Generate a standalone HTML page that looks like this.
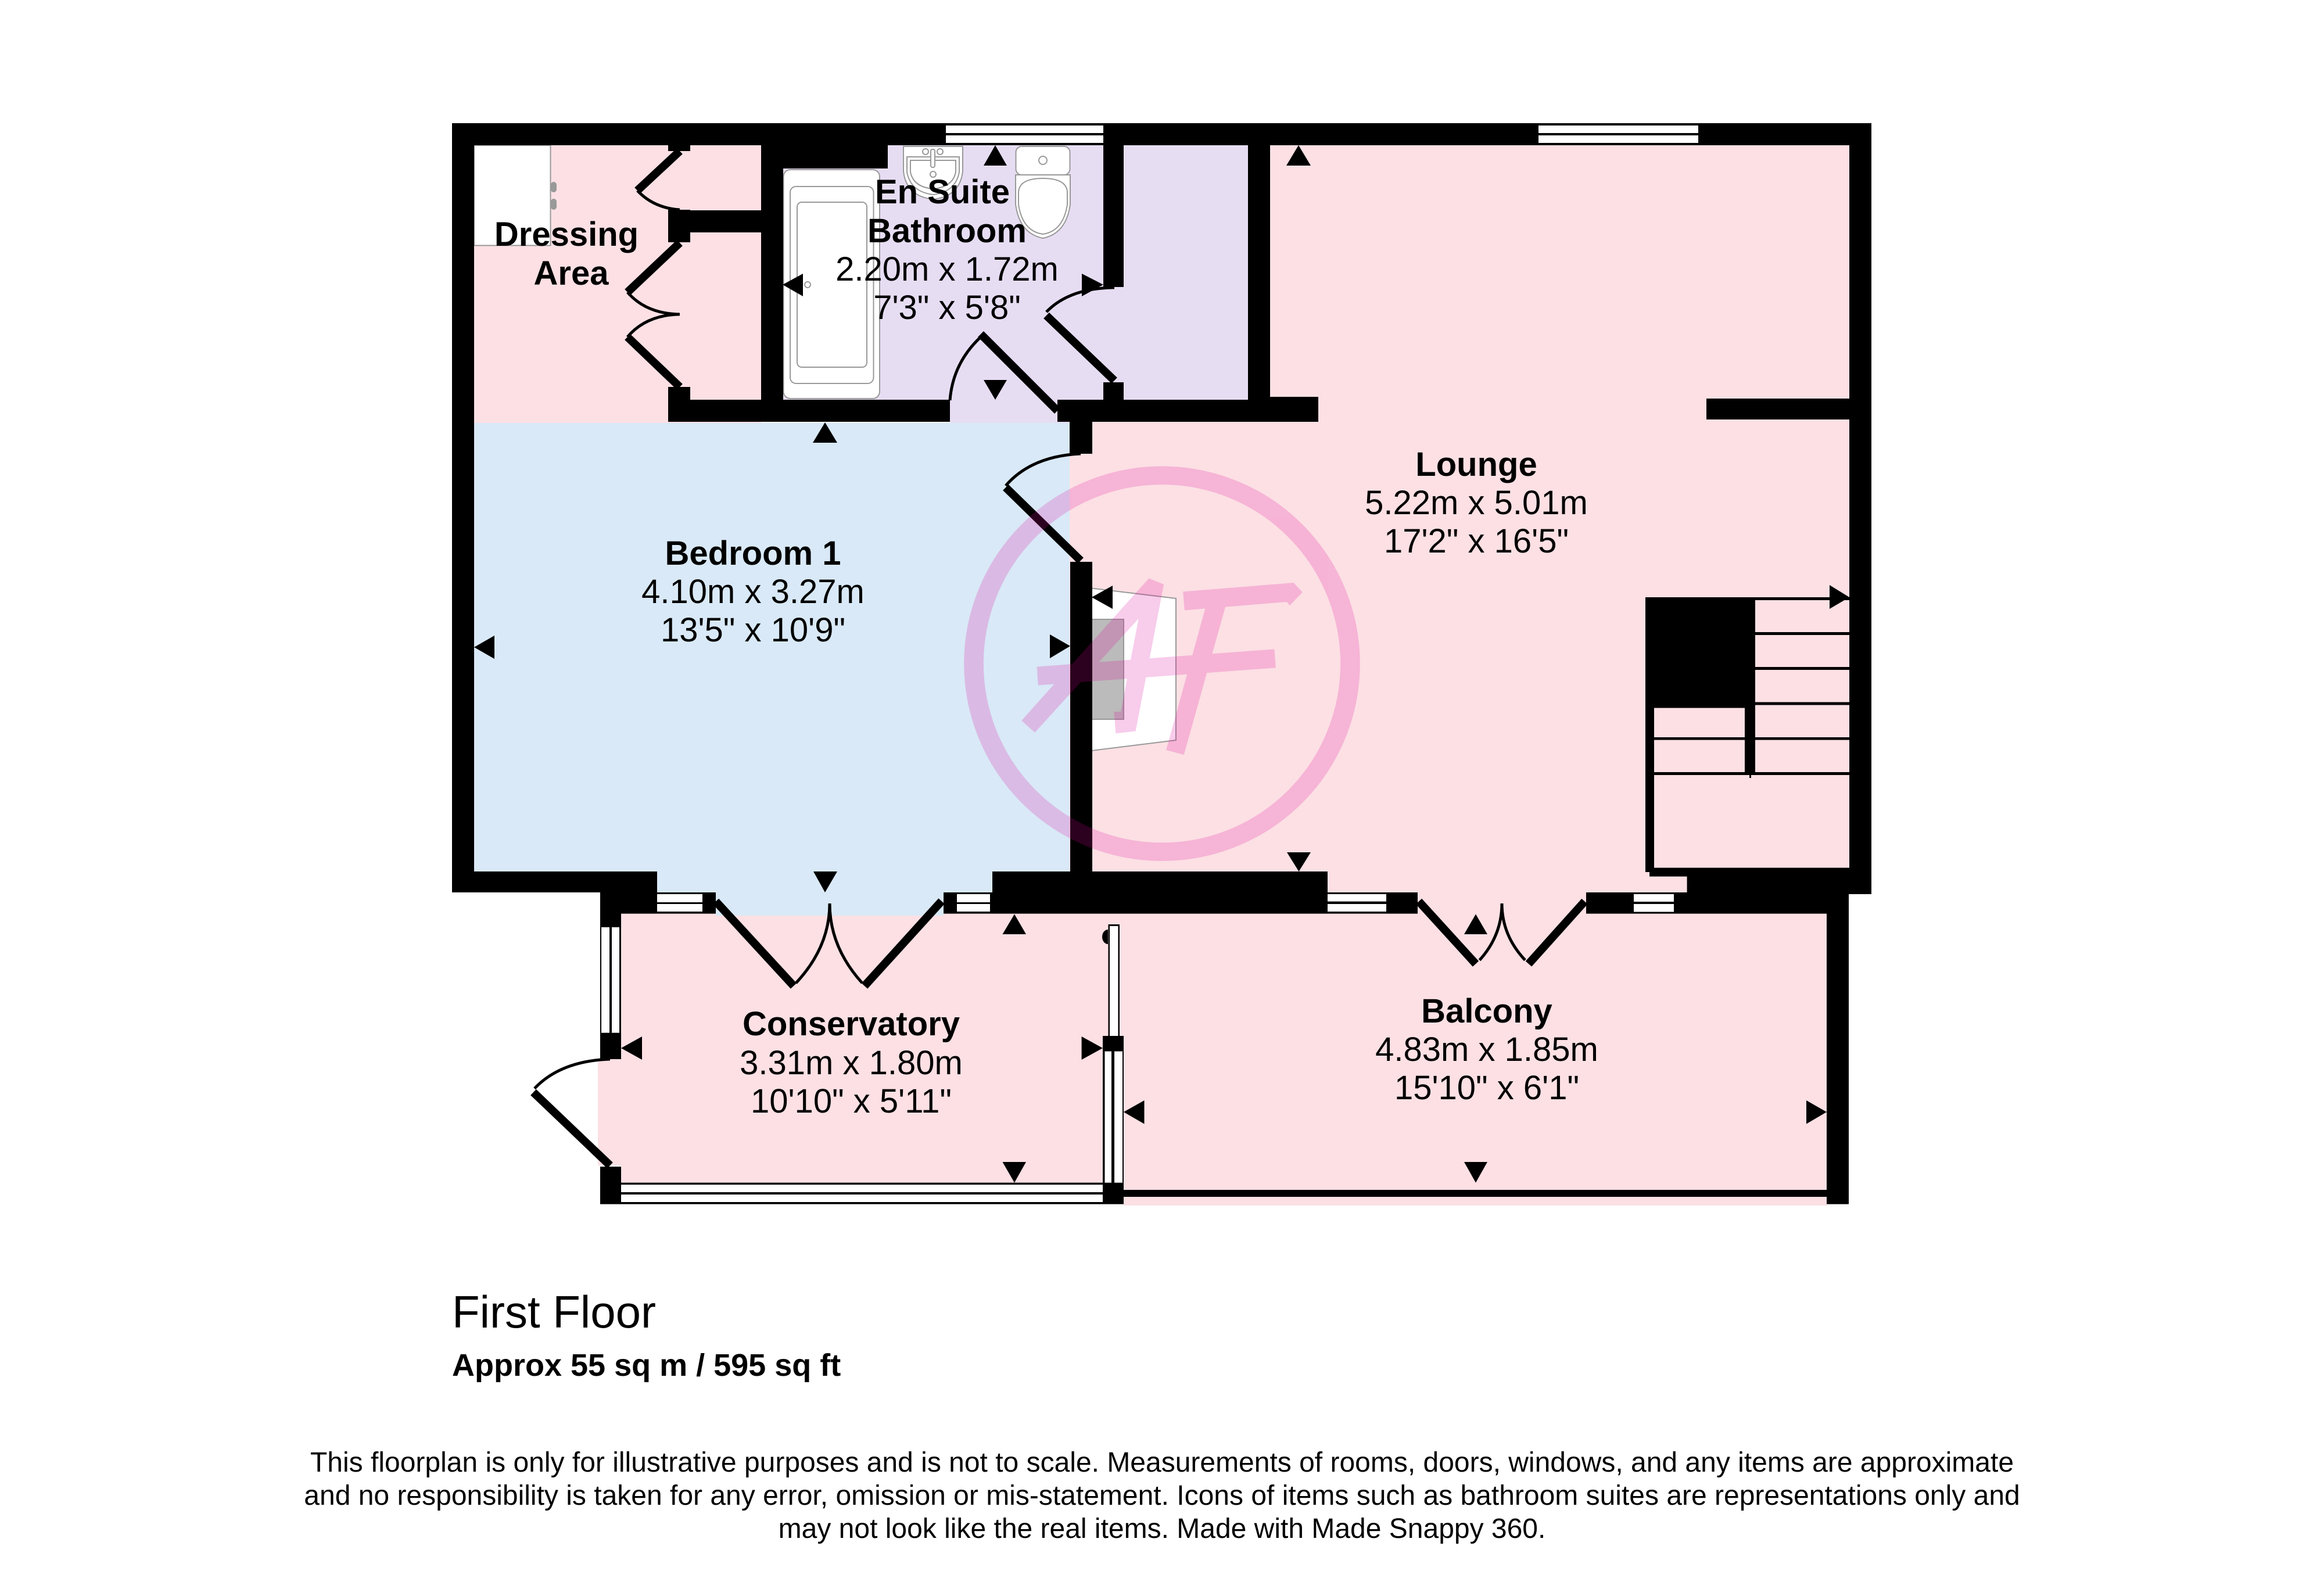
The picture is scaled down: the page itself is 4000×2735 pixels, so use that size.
<!DOCTYPE html>
<html><head><meta charset="utf-8"><style>
html,body{margin:0;padding:0;background:#fff}
svg{display:block}
text{font-family:"Liberation Sans",Arial,sans-serif;fill:#000;text-anchor:middle;font-size:58px}
.b{font-weight:bold}
</style></head><body>
<svg xmlns="http://www.w3.org/2000/svg" width="4000" height="2735" viewBox="0 0 4000 2735">
<rect width="4000" height="2735" fill="#fff"/>
<!-- room fills -->
<g fill="#fce0e4">
<rect x="816" y="250" width="494" height="478"/>
<rect x="2186" y="250" width="997" height="478"/>
<rect x="1841" y="726" width="1342" height="810"/>
<rect x="2285" y="1500" width="619" height="80"/>
<rect x="1934" y="1572" width="1210" height="503"/>
<rect x="1069" y="1572" width="865" height="470"/>
<rect x="1029" y="1823" width="60" height="183"/>
</g>
<g fill="#e7ddf3">
<rect x="1347" y="250" width="801" height="440"/>
<rect x="1635" y="688" width="206" height="40"/>
</g>
<g fill="#d9e9f7">
<rect x="816" y="728" width="1025" height="772"/>
<rect x="1232" y="1500" width="392" height="76"/>
<rect x="1131" y="1500" width="577" height="40"/>
</g>
<!-- fixtures -->
<rect x="816" y="250" width="131.500" height="172.500" fill="#fff" stroke="#999" stroke-width="2"/>
<rect x="948" y="313" width="10" height="18" rx="5" fill="#999"/>
<rect x="948" y="342" width="10" height="19" rx="5" fill="#999"/>
<path d="M1879 1012.500L2024 1030V1274L1879 1292Z" fill="#fff" stroke="#999" stroke-width="2"/>
<rect x="1879" y="1066" width="55" height="172" fill="#bbb" stroke="#999" stroke-width="2"/>
<g fill="#fff" stroke="#999" stroke-width="2">
<rect x="1348.500" y="292" width="165.500" height="394" rx="12"/>
<rect x="1360" y="321" width="143.500" height="339" rx="10" fill="none"/>
<rect x="1372" y="348" width="120" height="284" rx="8" fill="none"/>
<circle cx="1390" cy="490" r="5"/>
<path d="M1555 252H1657V295Q1652 338 1606 343Q1560 338 1555 295Z"/>
<path d="M1561 270H1651V296Q1645 330 1606 335Q1567 330 1561 296Z" fill="none"/>
<path d="M1567 276H1645V296Q1640 322 1606 325Q1572 322 1567 296Z" fill="none"/>
<circle cx="1593" cy="261" r="5"/><circle cx="1618" cy="261" r="5"/>
<rect x="1602" y="257" width="7" height="31" rx="3" fill="#fff"/>
<circle cx="1606" cy="300" r="5"/>
<path d="M1748 301V352Q1755 402 1795 410Q1835 402 1842 352V301Z"/>
<path d="M1753 330Q1755 307 1795 307Q1835 307 1837 330V352Q1830 398 1795 403Q1760 398 1753 352Z"/>
<rect x="1748.500" y="252" width="93" height="49" rx="10"/>
<circle cx="1795" cy="276" r="7"/>
</g>
<!-- walls -->
<g fill="#000">
<rect x="778" y="212" width="2443" height="38"/>
<rect x="778" y="212" width="38" height="1324"/>
<rect x="3183" y="212" width="38" height="1327"/>
<rect x="778" y="1500" width="353" height="36"/>
<rect x="1033" y="1536" width="98" height="36.600"/>
<rect x="1033" y="1572" width="36" height="24"/>
<rect x="1131" y="1536" width="101" height="36.600"/>
<rect x="1624" y="1536" width="85" height="36.600"/>
<rect x="1708" y="1500" width="577" height="72.600"/>
<rect x="2285" y="1536" width="155" height="36.600"/>
<rect x="2730" y="1536" width="451" height="36.600"/>
<rect x="2904" y="1500" width="317" height="39"/>
<rect x="3144" y="1536" width="38" height="536.600"/>
<rect x="1842" y="967" width="38" height="540"/>
<rect x="1841" y="726" width="39" height="55"/>
<rect x="1150" y="250" width="38" height="10"/>
<rect x="1150" y="361" width="38" height="56"/>
<rect x="1188" y="362" width="122" height="38"/>
<rect x="1150" y="666" width="38" height="23"/>
<rect x="1150" y="688" width="485" height="38"/>
<rect x="1310" y="250" width="38" height="440"/>
<rect x="1310" y="250" width="218" height="40"/>
<rect x="1899" y="250" width="35" height="244"/>
<rect x="2148" y="250" width="38" height="440"/>
<rect x="1899" y="658" width="35" height="32"/>
<rect x="1820" y="688" width="449" height="38"/>
<rect x="2186" y="683" width="83" height="43"/>
<rect x="2937" y="686" width="246" height="36"/>
<!-- conservatory -->
<rect x="1033" y="1596" width="36" height="181.600" fill="#000"/>
<rect x="1033" y="1777.600" width="36" height="45.400"/>
<rect x="1033" y="2008" width="36" height="64.600"/>
<rect x="1069" y="2035.600" width="829" height="37"/>
<rect x="1898" y="2035.600" width="36" height="37"/>
<rect x="1898" y="1809.600" width="36" height="226"/>
<rect x="1898" y="1783" width="36" height="26.600"/>
<rect x="1907.500" y="1591" width="19.500" height="192"/>
<path d="M1907 1600a10 12.500 0 0 0 0 25z"/>
<rect x="1934" y="2048" width="1210" height="12"/>
<!-- stairs -->
<path d="M2832 1028H3183V1536H2903.600V1508.600H2839V1501H2832Z"/>
</g>
<g fill="#fce0e4">
<rect x="3021" y="1033" width="162" height="55"/>
<rect x="3021" y="1093" width="162" height="55"/>
<rect x="3021" y="1153" width="162" height="55.500"/>
<rect x="3021" y="1213.500" width="162" height="55.500"/>
<rect x="3021" y="1273.600" width="162" height="55.400"/>
<rect x="2847" y="1218.500" width="156" height="50.500"/>
<rect x="2847" y="1273.600" width="156" height="55.400"/>
<rect x="2847" y="1334" width="336" height="159.600"/>
</g>
<rect x="3011" y="1333" width="3" height="6" fill="#000"/>
<!-- windows -->
<g fill="#fff">
<rect x="1628" y="216" width="271" height="13"/><rect x="1628" y="233" width="271" height="13"/>
<rect x="2648" y="216" width="275" height="13"/><rect x="2648" y="233" width="275" height="13"/>
<rect x="1131" y="1539" width="78" height="14"/><rect x="1131" y="1556" width="78" height="13"/>
<rect x="1647" y="1539" width="57" height="14"/><rect x="1647" y="1556" width="57" height="13"/>
<rect x="2285" y="1539" width="101" height="12.600"/><rect x="2285" y="1556" width="101" height="13"/>
<rect x="2812" y="1539" width="69" height="13"/><rect x="2812" y="1556" width="69" height="13.500"/>
<rect x="1035" y="1596" width="14" height="181.600"/><rect x="1053" y="1596" width="13" height="181.600"/>
<rect x="1069" y="2039" width="829" height="13"/><rect x="1069" y="2056" width="829" height="13"/>
<rect x="1901.500" y="1809.600" width="11.500" height="226"/><rect x="1918" y="1809.600" width="14" height="226"/>
<rect x="1910" y="1594" width="14.500" height="189"/>
</g>
<!-- doors -->
<g fill="none" stroke="#000" stroke-width="14">
<path d="M1170 260L1097 328"/>
<path d="M1170 418L1080 503"/>
<path d="M1080 580L1170 666"/>
<path d="M1801 543L1918 655"/>
<path d="M1688 575L1820 707"/>
<path d="M1731 839L1860 965"/>
<path d="M1232 1551.500L1366 1697"/>
<path d="M1620.600 1551L1488 1697"/>
<path d="M2442 1551.500L2540 1659"/>
<path d="M2727.500 1551.500L2631 1659"/>
<path d="M918 1880L1050 2006"/>
</g>
<g fill="none" stroke="#000" stroke-width="5">
<path d="M1097 328Q1125 358 1170 361"/>
<path d="M1080 503Q1112 540 1170 541"/>
<path d="M1080 580Q1112 542 1170 541"/>
<path d="M1801 537Q1840 496 1918 495"/>
<path d="M1635 689Q1640 625 1688 580"/>
<path d="M1731 836Q1775 785 1860 781"/>
<path d="M1370 1692Q1428 1630 1428 1555"/>
<path d="M1484 1692Q1428 1630 1428 1555"/>
<path d="M2546.600 1652.600Q2585 1610 2585 1555"/>
<path d="M2625 1652.600Q2585 1610 2585 1555"/>
<path d="M920 1873.500Q965 1826 1050 1823"/>
</g>
<!-- arrows -->
<g fill="#000">
<path d="M1713 250L1733 285H1693Z"/>
<path d="M2235 250L2256 285H2214Z"/>
<path d="M1347 490L1382 471V510Z"/>
<path d="M1899 490L1862 471V510Z"/>
<path d="M1713 688L1693 654H1733Z"/>
<path d="M1420 727L1441 762H1399Z"/>
<path d="M816 1114L851 1094V1134Z"/>
<path d="M1879 1028L1915 1008V1048Z"/>
<path d="M1842 1112L1807 1092V1133Z"/>
<path d="M2235.500 1500L2215 1467H2256Z"/>
<path d="M3183 1028L3149 1007V1048Z"/>
<path d="M1420 1536L1400 1500H1441Z"/>
<path d="M1746 1573.500L1766 1608H1725.500Z"/>
<path d="M1069 1804L1105 1784V1824Z"/>
<path d="M1898 1804L1861.600 1784V1824Z"/>
<path d="M1934 1914L1969.500 1894V1934.500Z"/>
<path d="M1746 2035.600L1725.500 2000H1766Z"/>
<path d="M2540 1573.500L2560 1608H2520Z"/>
<path d="M2540 2035.600L2520 2000H2560Z"/>
<path d="M3144 1914L3109 1894V1934.500Z"/>
</g>
<!-- labels -->
<text class="b" x="975" y="423">Dressing</text>
<text class="b" x="983" y="490">Area</text>
<text class="b" x="1622" y="350">En Suite</text>
<text class="b" x="1630" y="417">Bathroom</text>
<text x="1630" y="483">2.20m x 1.72m</text>
<text x="1630" y="549">7'3" x 5'8"</text>
<text class="b" x="2541" y="819">Lounge</text>
<text x="2541" y="885">5.22m x 5.01m</text>
<text x="2541" y="951">17'2" x 16'5"</text>
<text class="b" x="1296" y="972">Bedroom 1</text>
<text x="1296" y="1038">4.10m x 3.27m</text>
<text x="1296" y="1104">13'5" x 10'9"</text>
<text class="b" x="1465" y="1782">Conservatory</text>
<text x="1465" y="1849">3.31m x 1.80m</text>
<text x="1465" y="1915">10'10" x 5'11"</text>
<text class="b" x="2559" y="1760">Balcony</text>
<text x="2559" y="1826">4.83m x 1.85m</text>
<text x="2559" y="1892">15'10" x 6'1"</text>
<text x="778" y="2285" style="text-anchor:start;font-size:78px">First Floor</text>
<text class="b" x="778" y="2368" style="text-anchor:start;font-size:54px">Approx 55 sq m / 595 sq ft</text>
<text x="2000" y="2533" style="font-size:48px">This floorplan is only for illustrative purposes and is not to scale. Measurements of rooms, doors, windows, and any items are approximate</text>
<text x="2000" y="2590" style="font-size:48px">and no responsibility is taken for any error, omission or mis-statement. Icons of items such as bathroom suites are representations only and</text>
<text x="2000" y="2647" style="font-size:48px">may not look like the real items. Made with Made Snappy 360.</text>
<!-- watermark -->
<g opacity=".196" transform="translate(1600 780) scale(.5102 .4785)">
<g fill="#e0009c">
<path d="M362 768L1163 705L1168 772L366 835Z"/>
<path d="M855 498L1228 466L1258 500L1215 548L1205 535L860 565Z"/>
<path d="M930 558L998 552L858 1085L798 1068Z"/>
<path d="M740 450L790 472L695 1000L628 1008L622 930L645 930L705 595L355 1005L310 962Z"/>
</g>
<ellipse cx="784" cy="757" rx="635" ry="677" fill="none" stroke="#e0009c" stroke-width="66"/>
</g>
</svg>
</body></html>
